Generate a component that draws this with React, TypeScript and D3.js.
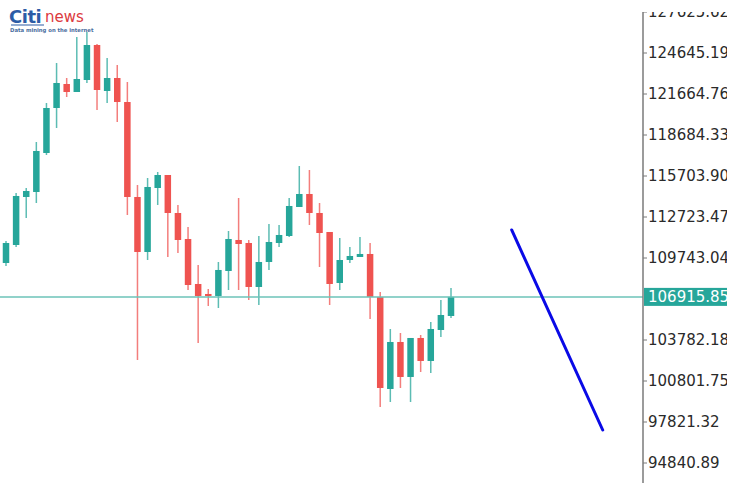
import React from "react";
import * as d3 from "d3";

const opens = [109380,110689,114178,114541,117376,120647,122392,121810,122683,125227,121883,122828,121083,114178,110180,114832,115777,113015,111125,107854,107127,106982,108799,111052,110834,107636,109453,110834,111343,113451,114396,113015,111634,107927,109598,109817,110035,106909,100221,103638,101094,103929,102257,104510,105528];
const highs = [110979,114469,114832,118176,121011,123918,122828,125808,126172,125299,124282,123773,122537,115050,115559,115995,115777,113596,111997,109235,107490,109453,111706,114105,111052,111343,112215,112143,114105,116431,116141,113742,111634,111198,110543,111270,110834,107272,104583,104292,103929,104147,105092,106691,107563];
const lows = [109162,110543,112651,113742,117231,119194,121447,121810,122465,120502,121011,119630,112869,102329,109598,113596,109817,110107,107418,103565,106255,106109,107418,107418,106691,106327,108872,110543,111270,113451,112143,109090,106327,107418,109380,109817,105310,98913,99276,100294,99276,101457,101384,104001,105382];
const closes = [110834,114251,114614,117522,120647,122465,121810,122755,125227,121956,122828,121083,114178,110180,114905,115777,113015,111052,107781,106982,106982,108872,111125,110761,107636,109453,110907,111416,113524,114396,113015,111561,107854,109598,109889,110035,106909,100294,103638,101094,103929,102257,104583,105600,106916];

const tickValues = [127625.62,124645.19,121664.76,118684.33,115703.90,112723.47,109743.04,103782.18,100801.75,97821.32,94840.89];
const currentPrice = 106915.85;
const trendIdx = [50, 59];
const trendPrice = [111780, 97240];

const GREEN = "#26a69a";
const RED = "#ef5350";

export default function App() {
  const W = 747, H = 488;
  const y = d3.scaleLinear().domain([94840.89, 124645.19]).range([463, 53]);
  const x = d3.scaleLinear().domain([0, 44]).range([6, 451]);
  const axisX = 643;
  const bodyW = 6.5;
  const trendLine = d3.line<number>().x((_, i) => x(trendIdx[i])).y((p) => y(p));

  return (
    <svg width={W} height={H} style={{ position: "absolute", left: 0, top: 0, background: "#fff" }}>
      <defs>
        <clipPath id="axisClip">
          <rect x={axisX - 2} y={12} width={727 - axisX + 2} height={H - 12} />
        </clipPath>
      </defs>
      {opens.map((o, i) => {
        const c = closes[i];
        const up = c >= o;
        const col = up ? GREEN : RED;
        const top = y(Math.max(o, c));
        const bot = y(Math.min(o, c));
        return (
          <g key={i}>
            <line x1={x(i)} x2={x(i)} y1={y(highs[i])} y2={y(lows[i])} stroke={col} strokeOpacity={0.75} strokeWidth={1.5} />
            <rect x={x(i) - bodyW / 2} y={top} width={bodyW} height={Math.max(1.5, bot - top)} fill={col} />
          </g>
        );
      })}
      <line x1={0} x2={axisX} y1={y(currentPrice)} y2={y(currentPrice)} stroke="#6cc3b8" strokeWidth={1.5} />
      <path d={trendLine(trendPrice) || ""} stroke="#0a0ae6" strokeWidth={3} fill="none" strokeLinecap="round" />
      <g clipPath="url(#axisClip)">
        <line x1={axisX} x2={axisX} y1={0} y2={483} stroke="#7a7a7a" strokeWidth={1.5} />
        {tickValues.map((t) => (
          <g key={t}>
            <line x1={axisX} x2={axisX + 4} y1={y(t)} y2={y(t)} stroke="#7a7a7a" strokeWidth={1} />
            <text x={axisX + 5} y={y(t)} dy="0.36em" fontFamily="DejaVu Sans" fontSize={15} fill="#2a2a2a">
              {t.toFixed(2)}
            </text>
          </g>
        ))}
        <rect x={axisX + 1} y={y(currentPrice) - 9} width={90} height={18} fill={GREEN} />
        <text x={axisX + 5} y={y(currentPrice)} dy="0.36em" fontFamily="DejaVu Sans" fontSize={15} fill="#fff">
          {currentPrice.toFixed(2)}
        </text>
      </g>
      <g>
        <text x={9} y={23} fontFamily="DejaVu Sans" fontWeight="bold" fontSize={18} fill="#2d5ca6" letterSpacing={-0.5}>Citi</text>
        <text x={45} y={22} fontFamily="DejaVu Sans" fontSize={15} fill="#dc3a40">news</text>
        <line x1={11} x2={44} y1={25} y2={25} stroke="#2d5ca6" strokeWidth={1.2} />
        <text x={10} y={32} fontFamily="DejaVu Sans" fontWeight="bold" fontSize={5.3} fill="#4a6d9e">Data mining on the internet</text>
      </g>
    </svg>
  );
}
